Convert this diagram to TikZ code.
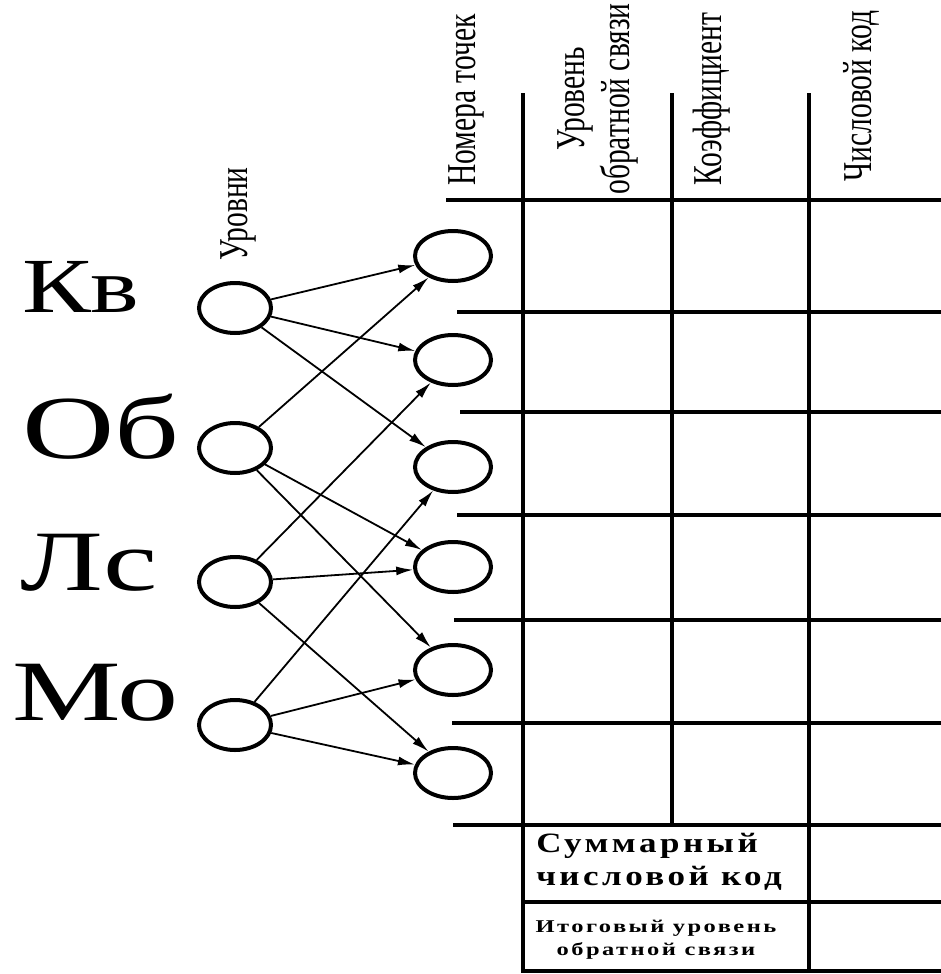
\documentclass[tikz,border=0pt]{standalone}
\usepackage{fontspec}
\setmainfont{Liberation Serif}
\newfontfamily\spacedserif[LetterSpace=10]{Liberation Serif}
\usetikzlibrary{shapes.geometric,arrows.meta}

\begin{document}
\begin{tikzpicture}[x=1pt,y=-1pt,
  lvl/.style={ellipse,draw,line width=4pt,minimum width=72pt,minimum height=50pt,inner sep=0pt},
  pnt/.style={ellipse,draw,line width=4pt,minimum width=76pt,minimum height=50pt,inner sep=0pt},
  link/.style={line width=1.8pt,-{Latex[length=17pt,width=9pt]}},
  grid/.style={line width=4.5pt},
  head/.style={rotate=90,xscale=0.72,font=\fontsize{41}{45}\selectfont,align=center,inner sep=0pt},
  big/.style={anchor=base west,inner sep=0pt,xscale=1.42}]
  \useasboundingbox (0,0) rectangle (941,974);

  % levels on the left
  \node[big,xscale=0.93,font=\fontsize{78}{78}\selectfont] (kvtext) at (22,312) {Кв};
  \node[big,font=\fontsize{90}{90}\selectfont] (obtext) at (22,458) {Об};
  \node[big,font=\fontsize{86}{86}\selectfont] (lstext) at (20,590) {Лс};
  \node[big,font=\fontsize{86}{86}\selectfont] (motext) at (12,720) {Мо};
  \node[lvl] (kv) at (235,308) {};
  \node[lvl] (ob) at (235,448) {};
  \node[lvl] (ls) at (235,582) {};
  \node[lvl] (mo) at (235,725) {};

  % points
  \foreach \i/\y in {1/256,2/360,3/467,4/567,5/670,6/773}
    \node[pnt] (p\i) at (453,\y) {};

  \foreach \a/\b in {kv/p1,kv/p2,kv/p3,ob/p1,ob/p4,ob/p5,
                     ls/p2,ls/p4,ls/p6,mo/p3,mo/p5,mo/p6}
    \draw[link] (\a) -- (\b);

  % column titles
  \node[head] (urovni) at (238,214) {Уровни};
  \node[head] (nomera) at (466,100) {Номера точек};
  \node[head] (uroven) at (598,99) {Уровень\\обратной связи};
  \node[head] (koef) at (712,99) {Коэффициент};
  \node[head] (chislo) at (861,96) {Числовой код};

  % table
  \draw[grid] (523,93) -- (523,973);
  \draw[grid] (672,93) -- (672,825);
  \draw[grid] (809,93) -- (809,973);
  \draw[grid] (446,200) -- (941,200);
  \foreach \y/\x in {312/457,412/460,515/457,620/454,723/452,825/453}
    \draw[grid] (\x,\y) -- (941,\y);
  \draw[grid] (523,902) -- (941,902);
  \draw[grid] (523,971) -- (941,971);

  \node[anchor=west,align=left,inner sep=0pt,xscale=1.25,
        font=\spacedserif\bfseries\fontsize{28}{33}\selectfont] (summa) at (536,862)
    {Суммарный\\числовой код};
  \node[align=center,inner sep=0pt,xscale=1.36,
        font=\spacedserif\bfseries\fontsize{18}{23}\selectfont] (itog) at (656,940)
    {Итоговый уровень\\обратной связи};
\end{tikzpicture}
\end{document}
